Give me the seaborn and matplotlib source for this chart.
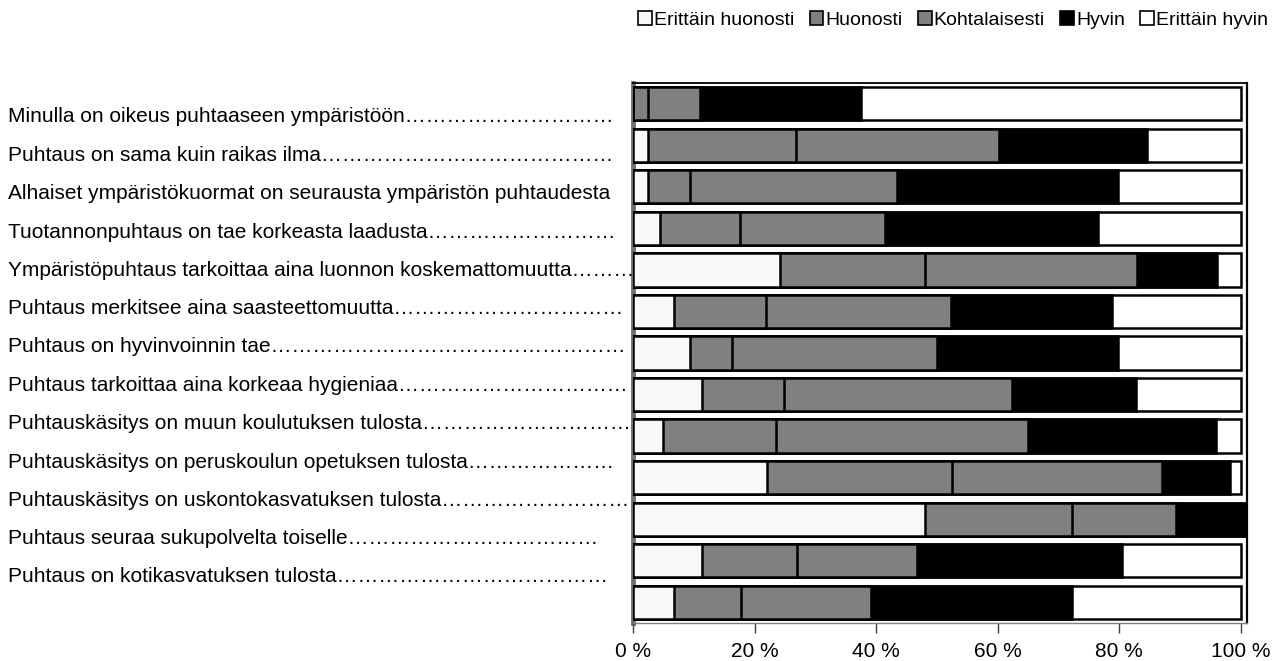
import matplotlib
matplotlib.use('Agg')
import matplotlib.pyplot as plt
import matplotlib.patches as mpatches
import seaborn as sns
import pandas as pd
import numpy as np

# --- data (percent of answers per statement) ---
items = [
    "Minulla on oikeus puhtaaseen ympäristöön",
    "Puhtaus on sama kuin raikas ilma",
    "Alhaiset ympäristökuormat on seurausta ympäristön puhtaudesta",
    "Tuotannonpuhtaus on tae korkeasta laadusta",
    "Ympäristöpuhtaus tarkoittaa aina luonnon koskemattomuutta",
    "Puhtaus merkitsee aina saasteettomuutta",
    "Puhtaus on hyvinvoinnin tae",
    "Puhtaus tarkoittaa aina korkeaa hygieniaa",
    "Puhtauskäsitys on muun koulutuksen tulosta",
    "Puhtauskäsitys on peruskoulun opetuksen tulosta",
    "Puhtauskäsitys on uskontokasvatuksen tulosta",
    "Puhtaus seuraa sukupolvelta toiselle",
    "Puhtaus on kotikasvatuksen tulosta",
]
# number of "…" leaders after each label
leaders = [10, 14, 0, 9, 3, 11, 17, 11, 10, 7, 9, 12, 13]

# the 13 bars (one per row, top to bottom)
erittain_huonosti = [0.0, 2.5, 2.5, 4.4, 24.2, 6.7, 9.4, 11.3, 4.9, 22.0, 48.0, 11.4, 6.7]
huonosti = [2.5, 24.3, 6.9, 13.2, 23.8, 15.2, 6.9, 13.5, 18.6, 30.5, 24.2, 15.6, 11.1]
kohtalaisesti = [8.5, 33.4, 34.0, 23.8, 34.9, 30.4, 33.7, 37.5, 41.5, 34.5, 17.1, 19.7, 21.3]
hyvin = [26.5, 24.4, 36.4, 35.1, 13.2, 26.5, 29.8, 20.4, 30.9, 11.2, 11.4, 33.7, 33.1]
erittain_hyvin = [62.5, 15.4, 20.2, 23.5, 3.9, 21.2, 20.2, 17.3, 4.1, 1.8, 0.0, 19.6, 27.8]

series_names = ["Erittäin huonosti", "Huonosti", "Kohtalaisesti", "Hyvin", "Erittäin hyvin"]
series_colors = ["#f8f8f8", "#808080", "#808080", "#000000", "#ffffff"]

df = pd.DataFrame({
    "row": [str(i) for i in range(len(items))],
    series_names[0]: erittain_huonosti,
    series_names[1]: huonosti,
    series_names[2]: kohtalaisesti,
    series_names[3]: hyvin,
    series_names[4]: erittain_hyvin,
})
cum = df[series_names].cumsum(axis=1)

sns.set_style("white")
plt.rcParams['font.family'] = ['Liberation Sans', 'DejaVu Sans']
plt.rcParams['text.color'] = 'black'
plt.rcParams['xtick.color'] = 'black'

fig = plt.figure(figsize=(12.74, 6.61), dpi=100)
ax = fig.add_axes([633 / 1274, 1 - 623 / 661, (1247 - 633) / 1274, (623 - 83) / 661])

order = list(df["row"])
# stacked look: draw cumulative totals from the longest to the shortest
for name, color in zip(reversed(series_names), reversed(series_colors)):
    sns.barplot(x=cum[name], y=df["row"], order=order, orient="h", color=color,
                edgecolor="black", linewidth=1.8, width=0.8, saturation=1, ax=ax)

ax.set_xlim(0, 101)
ax.set_ylim(len(items) - 0.5, -0.5)
ax.set_xlabel("")
ax.set_ylabel("")
ax.set_yticks([])
ax.set_xticks(np.arange(0, 101, 20))
ax.set_xticklabels([f"{t} %" for t in range(0, 101, 20)], fontsize=15)
ax.tick_params(axis="x", bottom=True, length=7, width=1, color="#404040", pad=7,
               labelcolor="black")

for side in ["top", "right", "bottom", "left"]:
    ax.spines[side].set_visible(True)
ax.spines["top"].set_color("black")
ax.spines["top"].set_linewidth(1.3)
ax.spines["right"].set_color("black")
ax.spines["right"].set_linewidth(1.6)
ax.spines["bottom"].set_color("#808080")
ax.spines["bottom"].set_linewidth(1.0)
ax.spines["left"].set_color("#707070")
ax.spines["left"].set_linewidth(3.5)
ax.spines["left"].set_zorder(0.5)

# statement labels, a text block to the left of the bars
label_y = np.linspace(1 - 117 / 661, 1 - 577 / 661, len(items))
for text, n, y in zip(items, leaders, label_y):
    fig.text(8 / 1274, y, text + "…" * n, ha="left", va="center", fontsize=15,
             color="black")

handles = [mpatches.Patch(facecolor=c, edgecolor="black", linewidth=1.2, label=n)
           for n, c in zip(series_names, series_colors)]
fig.legend(handles=handles, loc="center", bbox_to_anchor=(953 / 1274, 1 - 20 / 661),
           ncol=5, frameon=False, fontsize=14, handlelength=0.7, handleheight=0.7,
           handletextpad=0.1, columnspacing=0.8, borderpad=0, labelcolor="black")

fig.savefig("out.png", dpi=100, facecolor="white")
